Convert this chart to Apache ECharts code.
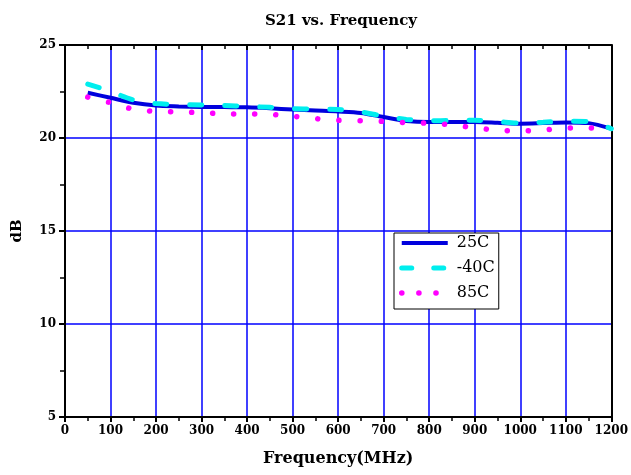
<!DOCTYPE html>
<html>
<head>
<meta charset="utf-8">
<script src="https://cdn.jsdelivr.net/npm/echarts@6/dist/echarts.min.js"></script>
<style>html,body{margin:0;padding:0;background:#fff;}#c{width:631px;height:475px;}</style>
</head>
<body>
<div id="c"></div>
<script>
var freq = [50,100,150,200,250,300,350,400,450,500,550,600,650,700,750,800,850,900,950,1000,1050,1100,1150,1200];
var s25C = [22.43,22.16,21.9,21.75,21.7,21.67,21.66,21.65,21.6,21.53,21.48,21.43,21.35,21.13,20.92,20.86,20.86,20.86,20.82,20.77,20.8,20.84,20.8,20.5];
var sM40C = [22.9,22.5,22.05,21.85,21.8,21.78,21.75,21.7,21.65,21.58,21.55,21.53,21.4,21.17,21.0,20.93,20.94,20.95,20.88,20.8,20.85,20.9,20.88,20.5];
var s85C = [22.2,21.9,21.55,21.43,21.4,21.36,21.3,21.29,21.27,21.17,21.04,20.95,20.93,20.89,20.83,20.79,20.7,20.55,20.42,20.38,20.43,20.53,20.54,20.38];
var seriesNames = ['25C','-40C','85C'];
var titleText = 'S21 vs. Frequency';
var xName = 'Frequency(MHz)';
var yName = 'dB';

function pairs(ys){ return freq.map(function(f,i){ return [f, ys[i]]; }); }

var styles = [
  {color:'#0000dd', width:4},
  {color:'#00eeee', width:5, type:[12,23], cap:'round'},
  {color:'#ff00ff', width:5.5, type:[0.1,21], cap:'round'}
];
var legendStyles = [
  {color:'#0000dd', width:4},
  {color:'#00eeee', width:5, type:[10,22], cap:'round'},
  {color:'#ff00ff', width:5.5, type:[0.1,17], cap:'round'}
];

var chart = echarts.init(document.getElementById('c'));
var labelFont = {fontFamily:'DejaVu Serif', fontWeight:'bold', fontSize:12, color:'#000'};
chart.setOption({
  animation:false,
  backgroundColor:'#fff',
  title:{text:titleText, left:336, top:9, textAlign:'center',
    textStyle:{fontFamily:'DejaVu Serif', fontWeight:'bold', fontSize:15, color:'#000'}},
  grid:{left:65, right:18, top:45, bottom:58, containLabel:false},
  legend:{
    data:seriesNames.map(function(n,i){ return {name:n, lineStyle:legendStyles[i], itemStyle:{opacity:0}}; }),
    orient:'vertical', left:394, top:233,
    itemWidth:46, itemHeight:14, itemGap:9,
    padding:[2,4,8,5],
    borderColor:'#000', borderWidth:1, backgroundColor:'#fff',
    itemStyle:{opacity:0},
    textStyle:{fontFamily:'DejaVu Serif', fontSize:16, color:'#000', padding:[0,0,0,4]}
  },
  xAxis:[{
    type:'value', min:0, max:1200, interval:100, position:'bottom',
    name:xName, nameLocation:'middle', nameGap:34,
    nameTextStyle:{fontFamily:'DejaVu Serif', fontWeight:'bold', fontSize:16, color:'#000'},
    axisLine:{show:true, onZero:false, lineStyle:{color:'#000', width:2}},
    axisTick:{show:true, inside:false, length:5, lineStyle:{color:'#000', width:2}},
    minorTick:{show:true, splitNumber:2, length:4, lineStyle:{color:'#000', width:1.5}},
    axisLabel:Object.assign({margin:8, formatter:function(v){return String(v);}}, labelFont),
    splitLine:{show:true, lineStyle:{color:'#0000ff', width:1.5}}
  },{
    type:'value', min:0, max:1200, interval:100, position:'top',
    axisLine:{show:true, onZero:false, lineStyle:{color:'#000', width:2}},
    axisTick:{show:true, inside:true, length:5, lineStyle:{color:'#000', width:2}},
    minorTick:{show:true, splitNumber:2, length:4, lineStyle:{color:'#000', width:1.5}},
    axisLabel:{show:false}, splitLine:{show:false}
  }],
  yAxis:[{
    type:'value', min:5, max:25, interval:5, position:'left',
    name:yName, nameLocation:'middle', nameGap:40, nameRotate:90,
    nameTextStyle:{fontFamily:'DejaVu Serif', fontWeight:'bold', fontSize:15, color:'#000'},
    axisLine:{show:true, onZero:false, lineStyle:{color:'#000', width:2}},
    axisTick:{show:true, inside:false, length:6, lineStyle:{color:'#000', width:2}},
    minorTick:{show:true, splitNumber:2, length:5, lineStyle:{color:'#000', width:1.5}},
    axisLabel:Object.assign({margin:9}, labelFont),
    splitLine:{show:true, lineStyle:{color:'#0000ff', width:1.5}}
  },{
    type:'value', min:5, max:25, interval:5, position:'right',
    axisLine:{show:true, onZero:false, lineStyle:{color:'#000', width:2}},
    axisTick:{show:false}, axisLabel:{show:false}, splitLine:{show:false}
  }],
  series:seriesNames.map(function(n,i){
    var d = [s25C, sM40C, s85C][i];
    return {name:n, type:'line', data:pairs(d), smooth:0.3, symbol:'none',
      color:styles[i].color, lineStyle:styles[i]};
  })
});
</script>
</body>
</html>
